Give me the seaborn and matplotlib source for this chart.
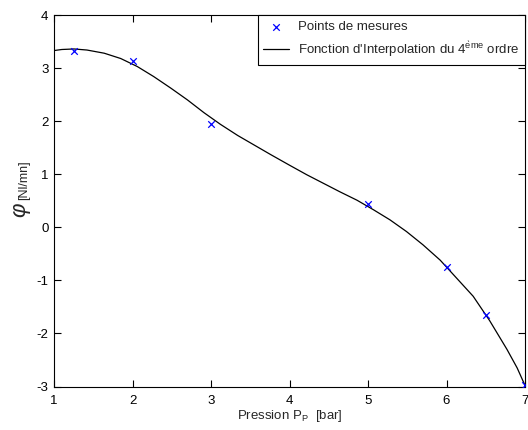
import numpy as np
import pandas as pd
import matplotlib
matplotlib.use("Agg")
import matplotlib.pyplot as plt
import seaborn as sns

sns.set_style("ticks")
plt.rcParams['font.family'] = ['Liberation Sans', 'DejaVu Sans']
plt.rcParams['mathtext.fontset'] = 'custom'
plt.rcParams['mathtext.rm'] = 'Liberation Sans'
plt.rcParams['mathtext.it'] = 'Liberation Sans:italic'
plt.rcParams['axes.unicode_minus'] = False

# measured points
pression = [1.25, 2.0, 3.0, 5.0, 6.0, 6.5, 7.0]
debit = [3.33, 3.13, 1.95, 0.43, -0.75, -1.65, -2.97]

# 4th order interpolation curve
curve_x = [1.0, 1.1, 1.255, 1.42, 1.64, 1.85, 2.06, 2.27, 2.49, 2.70, 2.91,
           3.12, 3.34, 3.55, 3.76, 4.0, 4.22, 4.43, 4.64, 4.86, 5.07, 5.28,
           5.49, 5.70, 5.92, 6.13, 6.34, 6.55, 6.77, 6.9, 7.0]
curve_y = [3.33, 3.35, 3.36, 3.34, 3.28, 3.18, 3.03, 2.84, 2.62, 2.40, 2.16,
           1.94, 1.73, 1.55, 1.37, 1.17, 0.99, 0.83, 0.67, 0.51, 0.33, 0.14,
           -0.08, -0.33, -0.62, -0.96, -1.30, -1.76, -2.30, -2.65, -2.98]

df_pts = pd.DataFrame({'x': pression, 'y': debit})
df_curve = pd.DataFrame({'x': curve_x, 'y': curve_y})

fig = plt.figure(figsize=(5.28, 4.30), dpi=100)
ax = fig.add_axes([54 / 528, 1 - 386.5 / 430, 471 / 528, 371.5 / 430])

sns.scatterplot(data=df_pts, x='x', y='y', ax=ax, marker='x', color='#0000ff',
                s=22, linewidth=0.9, label='Points de mesures', zorder=3)
sns.lineplot(data=df_curve, x='x', y='y', ax=ax, color='black', linewidth=0.9,
             label="Fonction d'Interpolation du 4$^\\mathrm{\\grave{e}me}$ ordre", zorder=2)

ax.set_xlim(1, 7)
ax.set_ylim(-3, 4)
ax.set_xticks(range(1, 8))
ax.set_yticks(range(-3, 5))
ax.tick_params(direction='in', top=True, right=True, length=5, width=0.8,
               labelsize=9.5, colors='black')
ax.tick_params(axis='x', pad=6)
ax.tick_params(axis='y', pad=4)
for s in ax.spines.values():
    s.set_linewidth(0.8)
    s.set_color('black')

ax.set_xlabel('Pression P$_\\mathrm{P}$  [bar]', fontsize=9.5, labelpad=1)
ax.set_ylabel('')
fig.text(22 / 528, 1 - 210 / 430, r'$\varphi$', fontsize=16, rotation=90,
         ha='center', va='center')
fig.text(24 / 528, 1 - 180 / 430, '[Nl/mn]', fontsize=9, rotation=90,
         ha='center', va='center')

leg = ax.legend(loc='upper right', borderaxespad=0, fontsize=9.5, fancybox=False,
                framealpha=1, edgecolor='black', handlelength=1.9,
                handletextpad=0.7, borderpad=0.45, labelspacing=0.45)
leg.get_frame().set_linewidth(0.8)

fig.savefig('out.png', dpi=100)
